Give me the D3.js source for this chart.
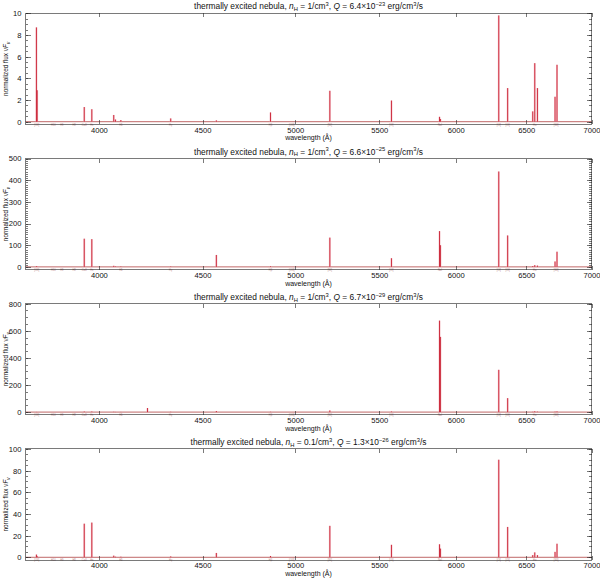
<!DOCTYPE html>
<html>
<head>
<meta charset="utf-8">
<script src="https://cdn.jsdelivr.net/npm/d3@7"></script>
<style>
  body { margin: 0; background: #fff; }
  svg { font-family: "Liberation Sans", Arial, sans-serif; }
  .axis path, .axis line { stroke: #222; stroke-width: 0.6; shape-rendering: crispEdges; }
  .axis text { font-size: 7.6px; fill: #111; }
</style>
</head>
<body>
<div id="chart"></div>
<script>
// emission line wavelengths (Angstrom)
const lineWaves = [3726, 3729, 3934, 3968, 4068, 4076, 4101, 4227, 4340, 4571, 4861,
  5200, 5577, 5890, 5896, 6300, 6364, 6548, 6563, 6583, 6716, 6731];

// peak fluxes per panel, same order as lineWaves
const flux1 = [8.7, 2.9, 1.35, 1.15, 0.62, 0.2, 0.15, 0, 0.3, 0.12, 0.85,
  2.85, 1.95, 0.45, 0.25, 9.8, 3.1, 0.95, 5.4, 3.1, 2.3, 5.25];
const flux2 = [3, 1, 130, 128, 5, 2, 2, 0, 2, 55, 3,
  135, 40, 165, 100, 440, 145, 4, 8, 6, 25, 70];
const flux3 = [1, 0.5, 4, 4, 2, 1, 1, 30, 2, 8, 2,
  12, 4, 675, 555, 312, 103, 2, 6, 3, 3, 5];
const flux4 = [2.5, 1, 31, 32, 1.5, 0.5, 0.5, 0, 0.8, 4, 1.2,
  29, 11.5, 12, 8, 90, 28, 2, 4.5, 2, 5, 12.5];

// panel settings
const nH = ['1', '1', '1', '0.1'];
const qMant = ['6.4', '6.6', '6.7', '1.3'];
const qExp = ['\u221223', '\u221225', '\u221229', '\u221226'];
const yMax = [10, 500, 800, 100];
const yMajorStep = [2, 100, 200, 20];
const yMinorStep = [0.5, 10, 50, 5];

const xTicks = [4000, 4500, 5000, 5500, 6000, 6500, 7000];

// little line ids along the bottom
const idWaves = [3727, 3798, 3835, 3889, 3934, 3968, 4101, 4340, 4861, 4980, 5200, 5577, 5893, 6300, 6364, 6563, 6724];
const idText = ['[OII]', 'H10', 'H9', 'H8', 'CaII', 'H\u03b5', 'H\u03b4', 'H\u03b3', 'H\u03b2', '[OIII]', '[NI]', '[OI]', 'NaI', '[OI]', '[OI]', 'H\u03b1', '[SII]'];

const fluxes = [flux1, flux2, flux3, flux4];

let width = 600, height = 578;
let left = 25.5, right = 591.5, top0 = 13.3, panelH = 111.1, step = 145.2;

let svg = d3.select('#chart').append('svg')
  .attr('width', width)
  .attr('height', height);

let x = d3.scaleLog().domain([3680, 7000]).range([left, right]);

fluxes.forEach((fl, i) => {
  let top = top0 + i * step;
  let bottom = top + panelH;
  let ymax = yMax[i];
  let y = d3.scaleLinear().domain([-0.025 * ymax, ymax]).range([bottom, top]);
  let g = svg.append('g');

  let major = d3.range(0, ymax + 1e-9, yMajorStep[i]);
  let minor = d3.range(0, ymax + 1e-9, yMinorStep[i]);

  // spectrum baseline
  g.append('line')
    .attr('x1', x(3680)).attr('x2', x(7000))
    .attr('y1', y(0)).attr('y2', y(0))
    .attr('stroke', '#b04040').attr('stroke-width', 0.8);

  // line ids
  g.selectAll('.lid').data(idWaves).enter().append('text')
    .attr('x', (d) => x(d))
    .attr('y', bottom + 1.2)
    .attr('text-anchor', 'middle')
    .attr('font-size', 2.6)
    .attr('fill', '#b88')
    .text((d, k) => idText[k]);

  // emission lines: soft halo then core
  let lines = lineWaves.map((w, k) => ({ w: w, f: fl[k] })).filter((d) => d.f > 0);
  g.selectAll('.halo').data(lines).enter().append('line')
    .attr('x1', (d) => x(d.w)).attr('x2', (d) => x(d.w))
    .attr('y1', y(0)).attr('y2', (d) => y(d.f))
    .attr('stroke', '#f2a7b3').attr('stroke-width', 2).attr('opacity', 0.6);
  g.selectAll('.core').data(lines).enter().append('line')
    .attr('x1', (d) => x(d.w)).attr('x2', (d) => x(d.w))
    .attr('y1', y(0)).attr('y2', (d) => y(d.f))
    .attr('stroke', '#c81e30').attr('stroke-width', 0.9);

  // axes
  g.append('g').attr('class', 'axis')
    .attr('transform', `translate(0,${bottom})`)
    .call(d3.axisBottom(x).tickValues(xTicks).tickSize(-4).tickPadding(3).tickFormat(d3.format('d')));
  g.append('g').attr('class', 'axis')
    .attr('transform', `translate(0,${top})`)
    .call(d3.axisTop(x).tickValues(xTicks).tickSize(-4).tickFormat(''));
  g.append('g').attr('class', 'axis')
    .attr('transform', `translate(${left},0)`)
    .call(d3.axisLeft(y).tickValues(minor).tickSize(-2.5).tickFormat(''));
  g.append('g').attr('class', 'axis')
    .attr('transform', `translate(${left},0)`)
    .call(d3.axisLeft(y).tickValues(major).tickSize(-5).tickPadding(4).tickFormat(d3.format('d')));
  g.append('g').attr('class', 'axis')
    .attr('transform', `translate(${right},0)`)
    .call(d3.axisRight(y).tickValues(minor).tickSize(-2.5).tickFormat(''));
  g.append('g').attr('class', 'axis')
    .attr('transform', `translate(${right},0)`)
    .call(d3.axisRight(y).tickValues(major).tickSize(-5).tickFormat(''));
  g.selectAll('.axis .domain').attr('d', null);
  g.append('rect')
    .attr('x', left).attr('y', top)
    .attr('width', right - left).attr('height', panelH)
    .attr('fill', 'none').attr('stroke', '#222').attr('stroke-width', 0.6)
    .attr('shape-rendering', 'crispEdges');

  // title
  let cx = (left + right) / 2;
  let t = g.append('text')
    .attr('x', cx).attr('y', top - 4)
    .attr('text-anchor', 'middle')
    .attr('font-size', 8.4).attr('fill', '#111');
  t.append('tspan').text('thermally excited nebula, ');
  t.append('tspan').attr('font-style', 'italic').text('n');
  t.append('tspan').attr('font-size', 5.8).attr('dy', 1.8).text('H');
  t.append('tspan').attr('dy', -1.8).text(' = ' + nH[i] + '/cm');
  t.append('tspan').attr('font-size', 5.8).attr('dy', -3.2).text('3');
  t.append('tspan').attr('dy', 3.2).text(', ');
  t.append('tspan').attr('font-style', 'italic').text('Q');
  t.append('tspan').text(' = ' + qMant[i] + '\u00d710');
  t.append('tspan').attr('font-size', 5.8).attr('dy', -3.2).text(qExp[i]);
  t.append('tspan').attr('dy', 3.2).text(' erg/cm');
  t.append('tspan').attr('font-size', 5.8).attr('dy', -3.2).text('3');
  t.append('tspan').attr('dy', 3.2).text('/s');

  // x label
  g.append('text')
    .attr('x', cx).attr('y', bottom + 16)
    .attr('text-anchor', 'middle')
    .attr('font-size', 7).attr('fill', '#111')
    .text('wavelength (\u00c5)');

  // y label
  let yl = g.append('text')
    .attr('transform', `translate(8,${(top + bottom) / 2}) rotate(-90)`)
    .attr('text-anchor', 'middle')
    .attr('font-size', 6.4).attr('fill', '#111');
  yl.append('tspan').text('normalized flux  \u03bd');
  yl.append('tspan').attr('font-style', 'italic').text('F');
  yl.append('tspan').attr('font-style', 'italic').attr('font-size', 4.6).attr('dy', 1.5).text('\u03bd');
});
</script>
</body>
</html>
